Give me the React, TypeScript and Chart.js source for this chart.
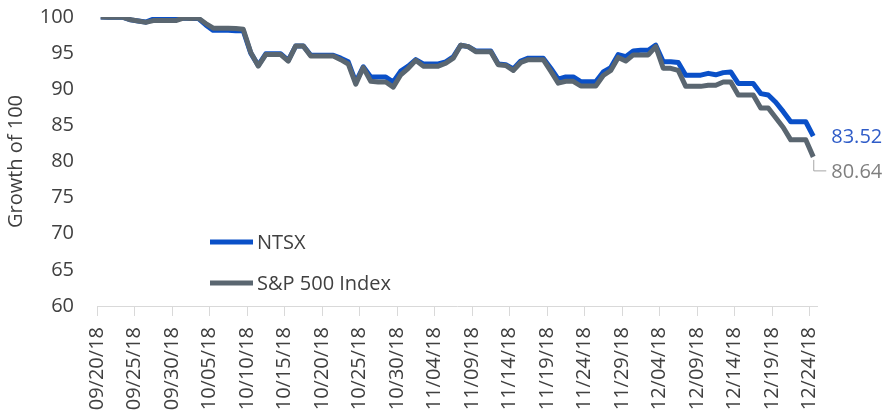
import React, { useEffect, useRef } from "react";
import { Chart, registerables } from "chart.js";

Chart.register(...registerables);

const dates: string[] = [
  "09/20/18", "09/21/18", "09/22/18", "09/23/18", "09/24/18", "09/25/18", "09/26/18", "09/27/18", "09/28/18", "09/29/18", "09/30/18",
  "10/01/18", "10/02/18", "10/03/18", "10/04/18", "10/05/18", "10/06/18", "10/07/18", "10/08/18", "10/09/18", "10/10/18",
  "10/11/18", "10/12/18", "10/13/18", "10/14/18", "10/15/18", "10/16/18", "10/17/18", "10/18/18", "10/19/18", "10/20/18",
  "10/21/18", "10/22/18", "10/23/18", "10/24/18", "10/25/18", "10/26/18", "10/27/18", "10/28/18", "10/29/18", "10/30/18", "10/31/18",
  "11/01/18", "11/02/18", "11/03/18", "11/04/18", "11/05/18", "11/06/18", "11/07/18", "11/08/18", "11/09/18", "11/10/18",
  "11/11/18", "11/12/18", "11/13/18", "11/14/18", "11/15/18", "11/16/18", "11/17/18", "11/18/18", "11/19/18", "11/20/18",
  "11/21/18", "11/22/18", "11/23/18", "11/24/18", "11/25/18", "11/26/18", "11/27/18", "11/28/18", "11/29/18", "11/30/18",
  "12/01/18", "12/02/18", "12/03/18", "12/04/18", "12/05/18", "12/06/18", "12/07/18", "12/08/18", "12/09/18", "12/10/18",
  "12/11/18", "12/12/18", "12/13/18", "12/14/18", "12/15/18", "12/16/18", "12/17/18", "12/18/18", "12/19/18", "12/20/18",
  "12/21/18", "12/22/18", "12/23/18", "12/24/18",
];

const tickLabels: string[] = [
  "09/20/18", "09/25/18", "09/30/18", "10/05/18", "10/10/18", "10/15/18", "10/20/18", "10/25/18", "10/30/18", "11/04/18",
  "11/09/18", "11/14/18", "11/19/18", "11/24/18", "11/29/18", "12/04/18", "12/09/18", "12/14/18", "12/19/18", "12/24/18",
];

const ntsx: number[] = [
  100.0, 99.95, 99.95, 99.95, 99.6, 99.45, 99.3, 99.7, 99.75, 99.75, 99.75,
  99.85, 99.8, 99.8, 98.9, 98.15, 98.15, 98.15, 98.1, 98.1, 95.0,
  93.3, 94.9, 94.9, 94.9, 94.0, 96.0, 96.0, 94.7, 94.7, 94.7,
  94.7, 94.3, 93.8, 91.0, 93.1, 91.7, 91.7, 91.7, 91.0, 92.5, 93.2,
  94.1, 93.5, 93.5, 93.5, 93.8, 94.5, 96.1, 95.9, 95.3, 95.3,
  95.3, 93.5, 93.4, 92.8, 93.9, 94.3, 94.3, 94.3, 92.9, 91.4,
  91.7, 91.7, 91.05, 91.05, 91.05, 92.4, 93.0, 94.8, 94.5, 95.3,
  95.4, 95.4, 96.1, 93.8, 93.8, 93.7, 91.95, 91.95, 91.95, 92.2,
  92.0, 92.3, 92.4, 90.8, 90.8, 90.8, 89.4, 89.2, 88.2, 86.9,
  85.5, 85.5, 85.5, 83.52,
];

const sp500: number[] = [
  100.0, 99.96, 99.96, 99.96, 99.61, 99.45, 99.25, 99.5, 99.5, 99.5, 99.5,
  99.85, 99.8, 99.85, 99.1, 98.45, 98.45, 98.45, 98.42, 98.3, 95.1,
  93.2, 94.8, 94.8, 94.8, 93.9, 96.0, 96.0, 94.6, 94.6, 94.6,
  94.6, 94.1, 93.5, 90.7, 93.0, 91.1, 91.0, 91.0, 90.3, 92.0, 92.9,
  94.0, 93.2, 93.2, 93.2, 93.6, 94.3, 96.1, 95.9, 95.2, 95.2,
  95.2, 93.4, 93.3, 92.6, 93.7, 94.1, 94.1, 94.1, 92.5, 90.85,
  91.1, 91.1, 90.45, 90.45, 90.45, 91.9, 92.6, 94.4, 93.9, 94.75,
  94.75, 94.75, 95.9, 92.9, 92.9, 92.6, 90.4, 90.4, 90.4, 90.55,
  90.55, 91.0, 91.0, 89.2, 89.2, 89.2, 87.4, 87.4, 86.05, 84.7,
  83.0, 83.0, 83.0, 80.64,
];

const seriesNames = ["NTSX", "S&P 500 Index"];
const yTitle = "Growth of 100";

const BLUE = "#0A50C8";
const GRAY = "#5A6670";
const TEXT = "#404040";
const FONT = "'Open Sans', 'Liberation Sans', sans-serif";
const FSIZE = 20;

const overlayPlugin = {
  id: "overlay",
  afterDatasetsDraw(chart: any) {
    const ctx = chart.ctx;
    const area = chart.chartArea;
    ctx.save();
    // legend
    const items = [
      { name: seriesNames[0], color: BLUE, y: area.top + 225 },
      { name: seriesNames[1], color: GRAY, y: area.top + 266 },
    ];
    ctx.font = `${FSIZE}px ${FONT}`;
    ctx.textBaseline = "middle";
    ctx.textAlign = "left";
    for (const it of items) {
      const x0 = area.left + 113;
      ctx.strokeStyle = it.color;
      ctx.lineWidth = 5;
      ctx.lineCap = "butt";
      ctx.beginPath();
      ctx.moveTo(x0, it.y);
      ctx.lineTo(x0 + 43, it.y);
      ctx.stroke();
      ctx.fillStyle = TEXT;
      ctx.fillText(it.name, x0 + 47, it.y + 1);
    }
    // end labels
    const m0 = chart.getDatasetMeta(0);
    const m1 = chart.getDatasetMeta(1);
    const p0 = m0.data[m0.data.length - 1];
    const p1 = m1.data[m1.data.length - 1];
    ctx.fillStyle = "#2F5CC8";
    ctx.fillText(ntsx[ntsx.length - 1].toFixed(2), p0.x + 18, p0.y + 1);
    // leader line for S&P
    ctx.strokeStyle = "#A6A6A6";
    ctx.lineWidth = 1;
    ctx.beginPath();
    ctx.moveTo(p1.x + 0.5, p1.y + 3);
    ctx.lineTo(p1.x + 0.5, p1.y + 14);
    ctx.lineTo(p1.x + 13, p1.y + 14);
    ctx.stroke();
    ctx.fillStyle = "#7F7F7F";
    ctx.fillText(sp500[sp500.length - 1].toFixed(2), p1.x + 18, p1.y + 15);
    ctx.restore();
  },
};

export default function App() {
  const ref = useRef<HTMLCanvasElement | null>(null);
  useEffect(() => {
    document.body.style.margin = "0";
    const canvas = ref.current;
    if (!canvas) return;
    const chart = new Chart(canvas, {
      type: "line",
      data: {
        datasets: [
          {
            label: seriesNames[0],
            data: ntsx.map((v, i) => ({ x: i, y: v })),
            borderColor: BLUE,
            borderWidth: 5,
            pointRadius: 0,
            tension: 0,
            borderJoinStyle: "round",
            order: 1,
          },
          {
            label: seriesNames[1],
            data: sp500.map((v, i) => ({ x: i, y: v })),
            borderColor: GRAY,
            borderWidth: 5,
            pointRadius: 0,
            tension: 0,
            borderJoinStyle: "round",
            order: 0,
          },
        ],
      },
      options: {
        responsive: false,
        animation: false,
        events: [],
        layout: { padding: { top: 17, right: 70, left: 0, bottom: 0 } },
        plugins: { legend: { display: false }, tooltip: { enabled: false } },
        scales: {
          x: {
            type: "linear",
            min: -0.5,
            max: 95.5,
            afterBuildTicks: (scale: any) => {
              scale.ticks = tickLabels.map((l) => ({ value: dates.indexOf(l) - 0.5 }));
            },
            afterFit: (scale: any) => {
              scale.height = 112;
            },
            ticks: {
              autoSkip: false,
              minRotation: 90,
              maxRotation: 90,
              padding: 11,
              color: TEXT,
              font: { family: FONT, size: FSIZE },
              callback: (_v: any, i: number) => tickLabels[i],
            },
            grid: {
              display: true,
              drawOnChartArea: false,
              drawTicks: true,
              tickLength: 10,
              color: "#D9D9D9",
              lineWidth: 1,
            },
            border: { display: true, color: "#D9D9D9", width: 1 },
          },
          y: {
            min: 60,
            max: 100,
            afterFit: (scale: any) => {
              scale.width = 97;
            },
            ticks: {
              stepSize: 5,
              padding: 3,
              color: TEXT,
              font: { family: FONT, size: FSIZE },
            },
            grid: { display: false, drawTicks: true, tickLength: 20 },
            border: { display: false },
            title: {
              display: true,
              text: yTitle,
              color: TEXT,
              font: { family: FONT, size: FSIZE },
              padding: { top: 4, bottom: 0 },
            },
          },
        },
      },
      plugins: [overlayPlugin],
    } as any);
    return () => chart.destroy();
  }, []);
  return <canvas ref={ref} width={887} height={418} style={{ display: "block" }} />;
}
